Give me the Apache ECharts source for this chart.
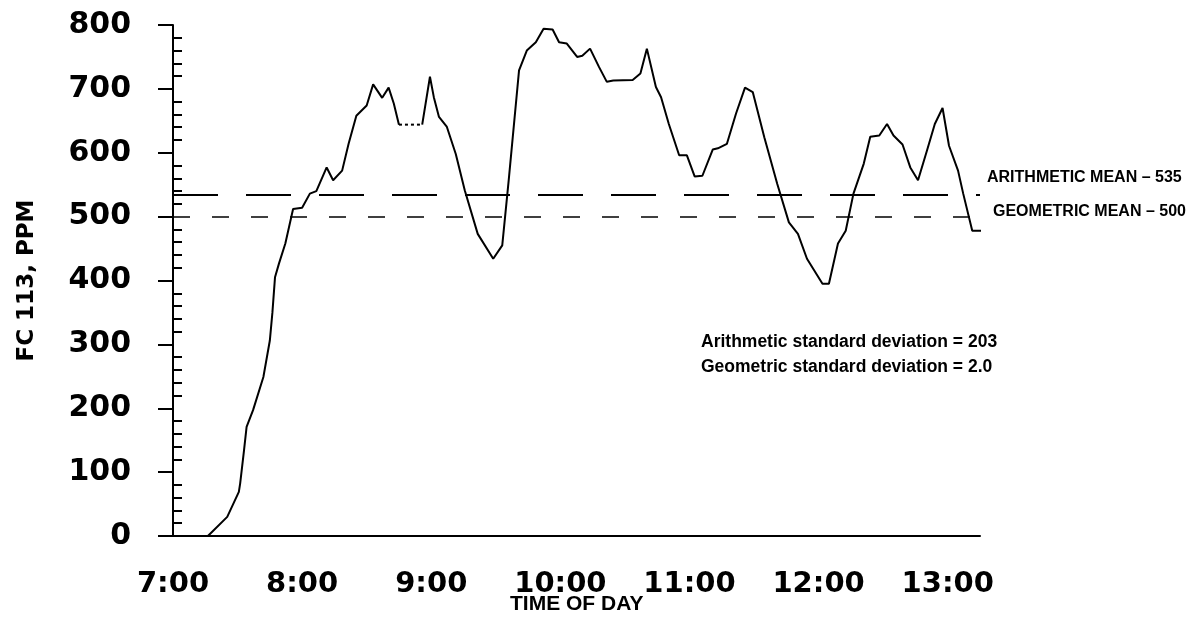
<!DOCTYPE html>
<html>
<head>
<meta charset="utf-8">
<script src="https://cdn.jsdelivr.net/npm/echarts@6/dist/echarts.min.js"></script>
<style>
html,body{margin:0;padding:0;background:#fff;}
#chart{width:1189px;height:624px;}
</style>
</head>
<body>
<div id="chart"></div>
<script>
// Time of day (decimal hours) and FC 113 concentration (ppm)
const timeHours = [7.27,7.29,7.42,7.51,7.52,7.55,7.57,7.62,7.70,7.75,7.77,7.79,7.82,7.87,7.93,8.00,8.06,8.11,8.19,8.24,8.31,8.36,8.42,8.50,8.55,8.62,8.67,8.71,8.75,8.93,8.99,9.02,9.06,9.12,9.19,9.26,9.36,9.48,9.55,9.60,9.68,9.74,9.81,9.87,9.94,9.99,10.05,10.13,10.17,10.23,10.30,10.36,10.41,10.56,10.62,10.67,10.74,10.78,10.84,10.92,10.98,11.04,11.10,11.18,11.22,11.29,11.36,11.43,11.49,11.58,11.68,11.77,11.84,11.91,12.03,12.08,12.15,12.21,12.27,12.35,12.40,12.47,12.53,12.58,12.65,12.71,12.77,12.84,12.90,12.96,13.01,13.08,13.12,13.19,13.26];
const ppm = [0,4,30,69,82,134,171,197,249,306,350,405,426,458,512,514,536,540,577,557,572,614,658,674,707,686,702,677,644,644,719,687,656,641,598,541,473,434,455,557,729,760,773,794,793,773,771,750,752,763,734,711,713,714,724,763,703,687,645,596,596,563,564,605,607,614,661,702,695,624,551,491,473,434,395,395,458,478,536,583,625,627,645,627,613,577,557,604,645,670,611,572,536,478,478];
// index of the reading after which the trace is drawn dotted (flat stretch ~8:45-8:56)
const dottedAfter = 28;
const arithmeticMean = 535;
const geometricMean = 500;
const meanLabels = ['ARITHMETIC MEAN \u2013 535', 'GEOMETRIC MEAN \u2013 500'];
const statLines = ['Arithmetic standard deviation = 203', 'Geometric standard deviation = 2.0'];
const yTitle = 'FC 113, PPM';
const xTitle = 'TIME OF DAY';

const chart = echarts.init(document.getElementById('chart'), null, {renderer:'canvas'});
const solidPts = [];
timeHours.forEach((t,i)=>{
  solidPts.push([t, ppm[i]]);
  if (i === dottedAfter) solidPts.push([t, null]);
});
const dottedPts = [[timeHours[dottedAfter], ppm[dottedAfter]], [timeHours[dottedAfter+1], ppm[dottedAfter+1]]];
const black = '#000';
const option = {
  animation:false,
  backgroundColor:'#fff',
  grid:{left:173, right:209, top:25, bottom:88, containLabel:false},
  xAxis:{
    type:'value', min:7, max:13.25, interval:1,
    axisLine:{show:true, lineStyle:{color:black, width:2}},
    axisTick:{show:false},
    splitLine:{show:false},
    axisLabel:{
      color:black, fontFamily:'DejaVu Sans', fontWeight:'bold', fontSize:29, margin:34,
      showMaxLabel:false,
      formatter:v => Number.isInteger(v) ? v + ':00' : ''
    }
  },
  yAxis:[{
    type:'value', min:0, max:800, interval:100,
    axisLine:{show:true, lineStyle:{color:black, width:2}},
    axisTick:{show:true, inside:false, length:15, lineStyle:{color:black, width:2}},
    splitLine:{show:false},
    axisLabel:{color:black, fontFamily:'DejaVu Sans', fontWeight:'bold', fontSize:30, margin:42},
    name:yTitle, nameLocation:'middle', nameGap:134, nameRotate:90,
    nameTextStyle:{color:black, fontFamily:'DejaVu Sans', fontWeight:'bold', fontSize:23}
  },{
    type:'value', min:0, max:800, interval:100, position:'left',
    axisLine:{show:false},
    axisTick:{show:true, inside:true, length:0, lineStyle:{color:black, width:0}},
    minorTick:{show:true, splitNumber:5, length:9, lineStyle:{color:black, width:2}},
    axisLabel:{show:false},
    splitLine:{show:false}
  }],
  series:[{
    type:'line', data:solidPts, yAxisIndex:0, symbol:'none', smooth:false, connectNulls:false,
    lineStyle:{color:black, width:2},
    markLine:{
      silent:true, symbol:['none','none'],
      label:{show:false},
      data:[
        {yAxis:arithmeticMean, lineStyle:{color:black, width:2, type:[45,28]}},
        {yAxis:geometricMean, lineStyle:{color:black, width:1.5, type:[17,22]}}
      ]
    }
  },{
    type:'line', data:dottedPts, yAxisIndex:0, symbol:'none',
    lineStyle:{color:black, width:2, type:[3,3]}
  }],
  graphic:[
    {type:'text', left:987, top:170, style:{text:meanLabels[0], fill:black, font:'bold 16px "Liberation Sans"'}},
    {type:'text', left:993, top:204, style:{text:meanLabels[1], fill:black, font:'bold 16px "Liberation Sans"'}},
    {type:'text', left:701, top:333, style:{text:statLines[0], fill:black, font:'bold 17.5px "Liberation Sans"'}},
    {type:'text', left:701, top:358, style:{text:statLines[1], fill:black, font:'bold 17.5px "Liberation Sans"'}},
    {type:'text', left:510, top:594, style:{text:xTitle, fill:black, font:'bold 21px "Liberation Sans"'}}
  ]
};
chart.setOption(option);
</script>
</body>
</html>
